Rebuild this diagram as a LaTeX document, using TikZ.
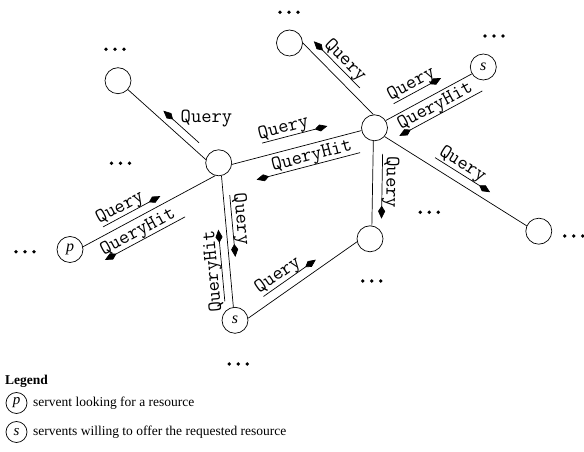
\documentclass[tikz,border=0pt]{standalone}
\usepackage{fontspec}
\setmainfont{Liberation Serif}
\usetikzlibrary{arrows.meta,calc}
\newcommand\setframe[4]{%
  \pgfmathanglebetweenpoints{\pgfpointanchor{#1}{#2}}{\pgfpointanchor{#3}{#4}}%
  \global\let\frameangle\pgfmathresult}
\newcommand\tripledots[1]{%
  \foreach \dx in {-9,0,9}{\fill ($(#1)+(\dx,0)$) circle[radius=1.9];}}
\begin{document}
\begin{tikzpicture}[x=1pt,y=1pt,
  peer/.style={circle,draw,line width=0.7pt,minimum size=26pt,inner sep=0pt,
    font=\fontsize{16}{18}\selectfont\itshape},
  legpeer/.style={circle,draw,line width=0.7pt,minimum size=21pt,inner sep=0pt,
    font=\fontsize{15}{17}\selectfont\itshape},
  link/.style={line width=0.7pt},
  msgline/.style={line width=0.7pt,-{Kite[length=13pt,width=7pt,inset=5.5pt]}},
  msgtext/.style={font=\fontsize{20}{22}\selectfont\ttfamily,inner sep=0pt,anchor=base west,transform shape},
  flattext/.style={font=\fontsize{20}{22}\selectfont\ttfamily,inner sep=0pt,anchor=base west},
  legtext/.style={font=\fontsize{13.5}{16}\selectfont,inner sep=0pt,anchor=base west}]
\useasboundingbox (0,0) rectangle (584,452);

% peers
\node[peer] (A)  at (118,371.3) {};
\node[peer] (B)  at (218.7,289.2) {};
\node[peer] (C)  at (289.5,409) {};
\node[peer] (D)  at (374.5,324.2) {};
\node[peer] (S1) at (483.3,385) {s};
\node[peer] (P)  at (70,202.5) {p};
\node[peer] (S2) at (235,131.7) {s};
\node[peer] (E)  at (370,213.2) {};
\node[peer] (F)  at (538.8,220.8) {};

% links
\draw[link] (A.-42) -- (B.166);
\draw[link] (B.-7) -- (D.192);
\draw[link] (P.12) -- (B.255);
\draw[link] (B.-78) -- (S2.97);
\draw[link] (C.0) -- (D.95);
\draw[link] (D.33) -- (S1.211);
\draw[link] (D.265) -- (E.82);
\draw[link] (D.-41) -- (F.156);
\draw[link] (S2.9) -- (E.193);

% messages A-B
\setframe{A}{-42}{B}{166}
\begin{scope}[shift={(A.-42)},rotate=\frameangle]
  \draw[msgline] (88.5,8) -- (40.5,8);
\end{scope}
\node[flattext] (qAB) at (180.5,329.5) {Query};

% B-D
\setframe{B}{-7}{D}{192}
\begin{scope}[shift={(B.-7)},rotate=\frameangle]
  \draw[msgline] (34.5,13) -- (102,13);
  \node[msgtext] (qBD) at (33,17.5) {Query};
  \draw[msgline] (127,-21) -- (20,-21);
  \node[msgtext] (hBD) at (38,-16.5) {QueryHit};
\end{scope}

% P-B
\setframe{P}{12}{B}{255}
\begin{scope}[shift={(P.12)},rotate=\frameangle]
  \draw[msgline] (27,8) -- (92,8);
  \node[msgtext] (qPB) at (25,12.5) {Query};
  \draw[msgline] (104,-22) -- (13,-22);
  \node[msgtext] (hPB) at (14,-17.5) {QueryHit};
\end{scope}

% B-S2
\setframe{B}{-78}{S2}{97}
\begin{scope}[shift={(B.-78)},rotate=\frameangle]
  \draw[msgline] (20,6.5) -- (82,6.5);
  \node[msgtext] (qBS) at (19,11) {Query};
\end{scope}
\setframe{S2}{97}{B}{-78}
\begin{scope}[shift={(S2.97)},rotate=\frameangle]
  \draw[msgline] (6.4,8) -- (78.4,8);
  \node[msgtext] (hBS) at (-4,12.5) {QueryHit};
\end{scope}

% C-D
\setframe{C}{0}{D}{95}
\begin{scope}[shift={(C.0)},rotate=\frameangle]
  \draw[msgline] (72,9) -- (6.5,9);
  \node[msgtext] (qCD) at (16,13.5) {Query};
\end{scope}

% D-S1
\setframe{D}{33}{S1}{211}
\begin{scope}[shift={(D.33)},rotate=\frameangle]
  \draw[msgline] (15,11) -- (69,11);
  \node[msgtext] (qDS) at (14,15.5) {Query};
  \draw[msgline] (99,-20) -- (4.7,-20);
  \node[msgtext] (hDS) at (9,-15.5) {QueryHit};
\end{scope}

% D-E
\setframe{D}{265}{E}{82}
\begin{scope}[shift={(D.265)},rotate=\frameangle]
  \draw[msgline] (12.5,9.5) -- (77.5,9.5);
  \node[msgtext] (qDE) at (15,14) {Query};
\end{scope}

% D-F
\setframe{D}{-41}{F}{156}
\begin{scope}[shift={(D.-41)},rotate=\frameangle]
  \draw[msgline] (54,9) -- (119,9);
  \node[msgtext] (qDF) at (55,13.5) {Query};
\end{scope}

% S2-E
\setframe{S2}{9}{E}{193}
\begin{scope}[shift={(S2.9)},rotate=\frameangle]
  \draw[msgline] (25,9) -- (89,9);
  \node[msgtext] (qSE) at (23,13.5) {Query};
\end{scope}

% ellipses
\coordinate (d1) at (115,402.7);
\coordinate (d2) at (289,439.7);
\coordinate (d3) at (494,416);
\coordinate (d4) at (120.5,288.7);
\coordinate (d5) at (25,200.3);
\coordinate (d6) at (429.3,239.7);
\coordinate (d7) at (371.7,171);
\coordinate (d8) at (573.7,216);
\coordinate (d9) at (238.3,88);
\foreach \c in {d1,d2,d3,d4,d5,d6,d7,d8,d9}{\tripledots{\c}}

% legend
\node[legtext,font=\fontsize{13.5}{16}\selectfont\bfseries] (leg) at (5,67) {Legend};
\node[legpeer] (lp) at (16.5,49) {p};
\node[legtext] (lpt) at (33,45) {servent looking for a resource};
\node[legpeer] (ls) at (16.5,20) {s};
\node[legtext] (lst) at (33,16) {servents willing to offer the requested resource};
\end{tikzpicture}
\end{document}
